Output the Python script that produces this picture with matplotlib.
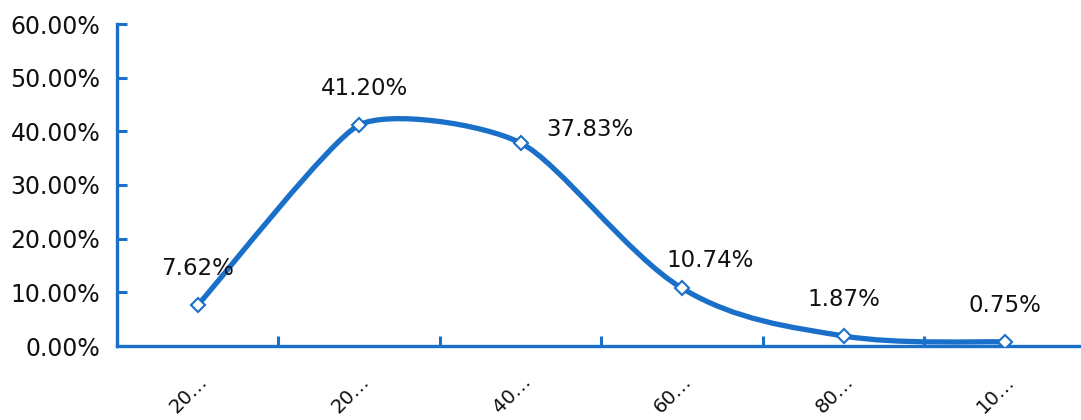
import matplotlib
matplotlib.use("Agg")
import matplotlib.pyplot as plt
from matplotlib.path import Path
from matplotlib.patches import PathPatch
from matplotlib.ticker import FuncFormatter, FixedLocator
from matplotlib.transforms import ScaledTranslation
import numpy as np

categories = ["20…", "20…", "40…", "60…", "80…", "10…"]
values = [7.62, 41.20, 37.83, 10.74, 1.87, 0.75]
labels = ["7.62%", "41.20%", "37.83%", "10.74%", "1.87%", "0.75%"]
yticks = [0, 10, 20, 30, 40, 50, 60]

# label offsets in pixels (style)
offsets = [(0, 37), (5, 36), (69, 13), (28, 28), (0, 36), (0, 36)]
# smoothing tension per point (style)
tension = [1/6, 0.09, 0.12, 1/6, 1/6, 1/6]

BLUE = "#1a6fc8"
plt.rcParams["font.family"] = ["DejaVu Sans"]

fig = plt.figure(figsize=(10.81, 4.2), dpi=100)
ax = fig.add_axes([117/1081, 1-346/420, 1-117/1081, (346-24)/420])

x = np.arange(len(values), dtype=float)
y = np.array(values, dtype=float)

# smoothed line through the points (cubic Bezier segments)
verts = [(x[0], y[0])]
codes = [Path.MOVETO]
n = len(x)
for i in range(n - 1):
    p0 = np.array([x[max(i-1, 0)], y[max(i-1, 0)]])
    p1 = np.array([x[i], y[i]])
    p2 = np.array([x[i+1], y[i+1]])
    p3 = np.array([x[min(i+2, n-1)], y[min(i+2, n-1)]])
    c1 = p1 + (p2 - p0) * tension[i]
    c2 = p2 - (p3 - p1) * tension[i+1]
    verts += [tuple(c1), tuple(c2), tuple(p2)]
    codes += [Path.CURVE4] * 3
patch = PathPatch(Path(verts, codes), facecolor="none", edgecolor=BLUE,
                  lw=3.8, capstyle="round", joinstyle="round", zorder=3)
ax.add_patch(patch)
ax.plot(x, y, linestyle="none", marker="D", markersize=7,
        markerfacecolor="white", markeredgecolor=BLUE, markeredgewidth=1.5, zorder=4)

for xi, yi, lab, off in zip(x, y, labels, offsets):
    ax.annotate(lab, (xi, yi), xytext=off, textcoords="offset pixels",
                ha="center", va="center", fontsize=16.5, color="#111111")

ax.set_xlim(-0.5, 5.47)
ax.set_ylim(0, 60)
ax.yaxis.set_major_locator(FixedLocator(yticks))
ax.yaxis.set_major_formatter(FuncFormatter(lambda v, p: f"{v:.2f}%"))

ax.set_xticks(x)
ax.set_xticklabels(categories, rotation=45, ha="right", va="top",
                   rotation_mode="anchor", fontsize=14.2, color="#111111")
shift = ScaledTranslation(-6/100, 0, fig.dpi_scale_trans)
for lab in ax.get_xticklabels():
    lab.set_transform(lab.get_transform() + shift)
ax.set_xticks(np.arange(-0.5, 5.0, 1.0), minor=True)
ax.tick_params(axis="x", which="major", length=0, pad=18.5)
ax.tick_params(axis="x", which="minor", direction="in", length=7, width=2.2, color=BLUE)
ax.tick_params(axis="y", direction="in", length=7, width=2.2, color=BLUE,
               labelsize=17, pad=12, labelcolor="#111111")

for s in ["top", "right"]:
    ax.spines[s].set_visible(False)
for s in ["left", "bottom"]:
    ax.spines[s].set_color(BLUE)
    ax.spines[s].set_linewidth(2.4)

fig.savefig("out.png", dpi=100)
